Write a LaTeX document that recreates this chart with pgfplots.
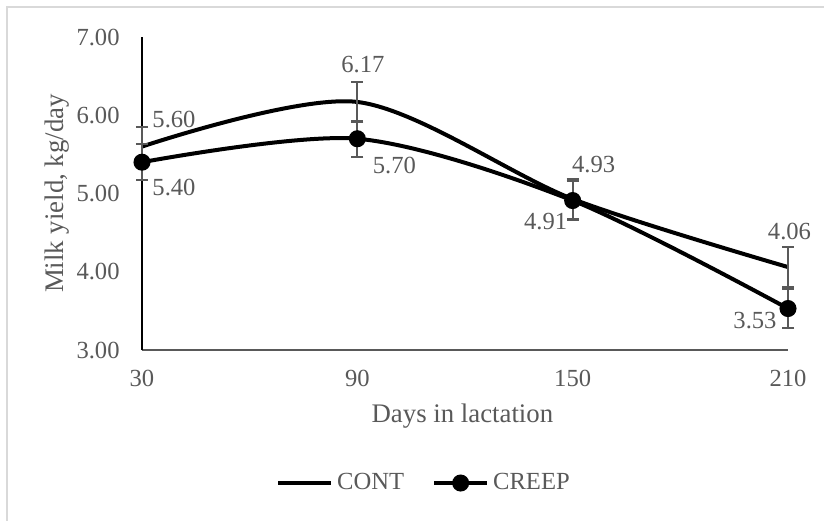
\documentclass[border=0pt]{standalone}
\usepackage{fontspec}
\setmainfont{Liberation Serif}
\usepackage{pgfplots}
\usepackage{pgfplotstable}
\pgfplotsset{compat=1.18}

\definecolor{txt}{HTML}{595959}
\definecolor{frame}{HTML}{D9D9D9}

% x, y, error, label, label offset (pt)
\pgfplotstableread{
x   y    e    lab   dx    dy
30  5.60 0.25 5.60  16    13.5
90  6.17 0.26 6.17  2.75  18.75
150 4.93 0.25 4.93  10.5  17
210 4.06 0.25 4.06  0.75  18
}\cont
\pgfplotstableread{
x   y    e    lab   dx     dy
30  5.40 0.23 5.40  16     -12.5
90  5.70 0.23 5.70  18.5   -13.5
150 4.91 0.25 4.91  -13.5  -10.25
210 3.53 0.25 3.53  -16.5  -5.75
}\creep

\begin{document}
\begin{tikzpicture}
\useasboundingbox (-71pt,-85pt) rectangle (341pt,175pt);
\draw[frame, line width=1pt] (-67.5pt,171.5pt) rectangle (350pt,-95pt);
\begin{axis}[
  scale only axis,
  width=323pt, height=156.5pt,
  xmin=30, xmax=210,
  ymin=3, ymax=7,
  xtick={30,90,150,210},
  ytick={3,4,5,6,7},
  /pgf/number format/assume math mode=true,
  major tick length=0pt,
  axis x line=bottom, axis y line=left,
  x axis line style={-, txt, line width=1.2pt},
  y axis line style={-, black, line width=0.7pt},
  tick label style={font=\fontsize{12.3}{14}\selectfont, text=txt, inner sep=0pt},
  xticklabel style={anchor=north, yshift=-10pt},
  yticklabel style={anchor=east, xshift=-11pt,
    /pgf/number format/fixed, /pgf/number format/fixed zerofill,
    /pgf/number format/precision=2},
  label style={font=\fontsize{13.4}{15}\selectfont, text=txt},
  xlabel={Days in lactation},
  xlabel style={at={(axis description cs:0.496,-0.2332)}, anchor=base},
  ylabel={Milk yield, kg/day},
  ylabel style={at={(axis description cs:-0.1316,0.5)}, anchor=center},
  legend columns=2,
  legend style={at={(axis description cs:0.438,-0.425)}, anchor=center,
    draw=none, fill=none, font=\fontsize{12.3}{14}\selectfont, text=txt,
    /tikz/every even column/.style={column sep=12pt}, inner sep=0pt},
  legend image code/.code={\draw[mark repeat=2, mark phase=2, #1]
    plot coordinates {(0pt,0pt) (13.25pt,0pt) (26.5pt,0pt)};},
  clip=false,
]
\addplot[black, line width=2pt, smooth, no marks,
  nodes near coords, point meta=explicit symbolic,
  visualization depends on={\thisrow{dx} \as \dx},
  visualization depends on={\thisrow{dy} \as \dy},
  every node near coord/.style={anchor=center, xshift=\dx pt, yshift=\dy pt,
    font=\fontsize{12.3}{14}\selectfont, text=txt, inner sep=0pt},
  error bars/.cd, y dir=both, y explicit,
  error bar style={txt, line width=1pt},
  error mark options={rotate=90, txt, mark size=3pt, line width=1pt}]
  table[x=x, y=y, y error=e, meta=lab] {\cont};
\addlegendentry{CONT}
\addplot[black, line width=2pt, smooth, mark=*, mark size=3.25pt,
  mark options={solid, fill=black},
  nodes near coords, point meta=explicit symbolic,
  visualization depends on={\thisrow{dx} \as \dx},
  visualization depends on={\thisrow{dy} \as \dy},
  every node near coord/.style={anchor=center, xshift=\dx pt, yshift=\dy pt,
    font=\fontsize{12.3}{14}\selectfont, text=txt, inner sep=0pt},
  error bars/.cd, y dir=both, y explicit,
  error bar style={txt, line width=1pt},
  error mark options={rotate=90, txt, mark size=3pt, line width=1pt}]
  table[x=x, y=y, y error=e, meta=lab] {\creep};
\addlegendentry{CREEP}
\end{axis}
\end{tikzpicture}
\end{document}
